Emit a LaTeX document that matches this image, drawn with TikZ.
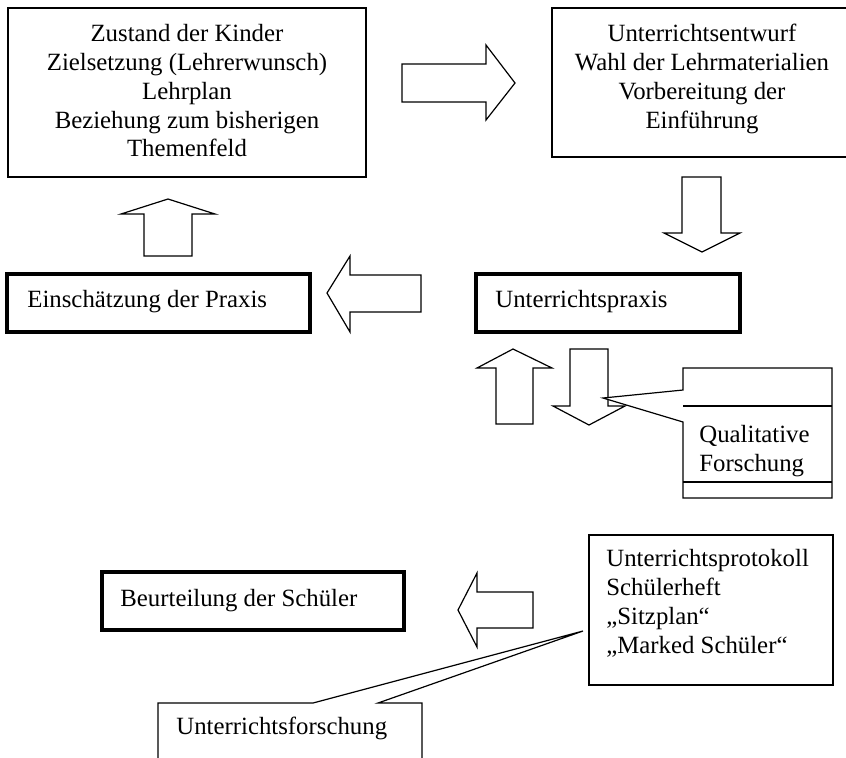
\documentclass[tikz,border=0pt]{standalone}
\usepackage{fontspec}
\setmainfont{Liberation Serif}
\begin{document}
\begin{tikzpicture}[x=0.5pt,y=-0.5pt,
    box/.style={draw, line width=0.6pt, inner sep=0pt},
    thickbox/.style={draw, line width=1.7pt, inner sep=0pt},
    txt/.style={inner sep=0pt, font={\fontsize{12.4}{14.4}\selectfont}},
    blockarrow/.style={draw, line width=0.6pt, line join=miter, fill=white},
    callout/.style={draw, line width=0.6pt, fill=white}]
  \useasboundingbox (0,0) rectangle (846,757);
  \node[box, minimum width=179pt, minimum height=84.5pt] (zustand) at (187,92.5) {};
  \node[txt, align=center, anchor=north] (zustandtext) at (187,24) {Zustand der Kinder\\Zielsetzung (Lehrerwunsch)\\Lehrplan\\Beziehung zum bisherigen\\Themenfeld};
  \node[box, minimum width=149pt, minimum height=74.5pt] (entwurf) at (701,82.5) {};
  \node[txt, align=center, anchor=north] (entwurftext) at (702,24) {Unterrichtsentwurf\\Wahl der Lehrmaterialien\\Vorbereitung der\\Einführung};
  \node[thickbox, minimum width=151.5pt, minimum height=29pt] (einschaetzung) at (158.5,303) {};
  \node[txt, anchor=base west] (einschaetzungtext) at (27,307) {Einschätzung der Praxis};
  \node[thickbox, minimum width=132pt, minimum height=29pt] (praxis) at (608,303) {};
  \node[txt, anchor=base west] (praxistext) at (495,307) {Unterrichtspraxis};
  \node[box, minimum width=122pt, minimum height=75pt] (protokoll) at (711,610) {};
  \node[txt, align=left, anchor=north west] (protokolltext) at (606,549) {Unterrichtsprotokoll\\Schülerheft\\„Sitzplan“\\„Marked Schüler“};
  \node[thickbox, minimum width=151pt, minimum height=29pt] (beurteilung) at (253,601) {};
  \node[txt, anchor=base west] (beurteilungtext) at (120,606) {Beurteilung der Schüler};

  \draw[blockarrow] (402,64) -- (486,64) -- (486,45) -- (515,83) -- (486,120) -- (486,102) -- (402,102) -- cycle;
  \draw[blockarrow] (682,177) -- (721,177) -- (721,233) -- (740,233) -- (702,252) -- (664,233) -- (682,233) -- cycle;
  \draw[blockarrow] (421,275) -- (350,275) -- (350,256) -- (327,293) -- (350,332) -- (350,312) -- (421,312) -- cycle;
  \draw[blockarrow] (144,256) -- (144,214) -- (121,214) -- (168,199) -- (215,214) -- (192,214) -- (192,256) -- cycle;
  \draw[blockarrow] (496,424) -- (496,368) -- (477,368) -- (513,349) -- (552,368) -- (533,368) -- (533,424) -- cycle;
  \draw[blockarrow] (570,349) -- (608,349) -- (608,406) -- (625,406) -- (589,425) -- (553,406) -- (570,406) -- cycle;
  \draw[blockarrow] (533,592) -- (477,592) -- (477,573) -- (458,610) -- (477,647) -- (477,628) -- (533,628) -- cycle;

  \draw[callout] (683,390) -- (683,368) -- (832,368) -- (832,498) -- (683,498) -- (683,422) -- (603,398) -- cycle;
  \draw[line width=0.6pt] (683,406) -- (832,406) (683,482) -- (832,482);
  \node[txt, align=left, anchor=north west] (qualitativtext) at (699,425) {Qualitative\\Forschung};
  \draw[callout] (158,775) -- (158,703) -- (313,703) -- (583,631) -- (378,703) -- (422,703) -- (422,775);
  \node[txt, anchor=base west] (forschungtext) at (176,734) {Unterrichtsforschung};
\end{tikzpicture}
\end{document}
